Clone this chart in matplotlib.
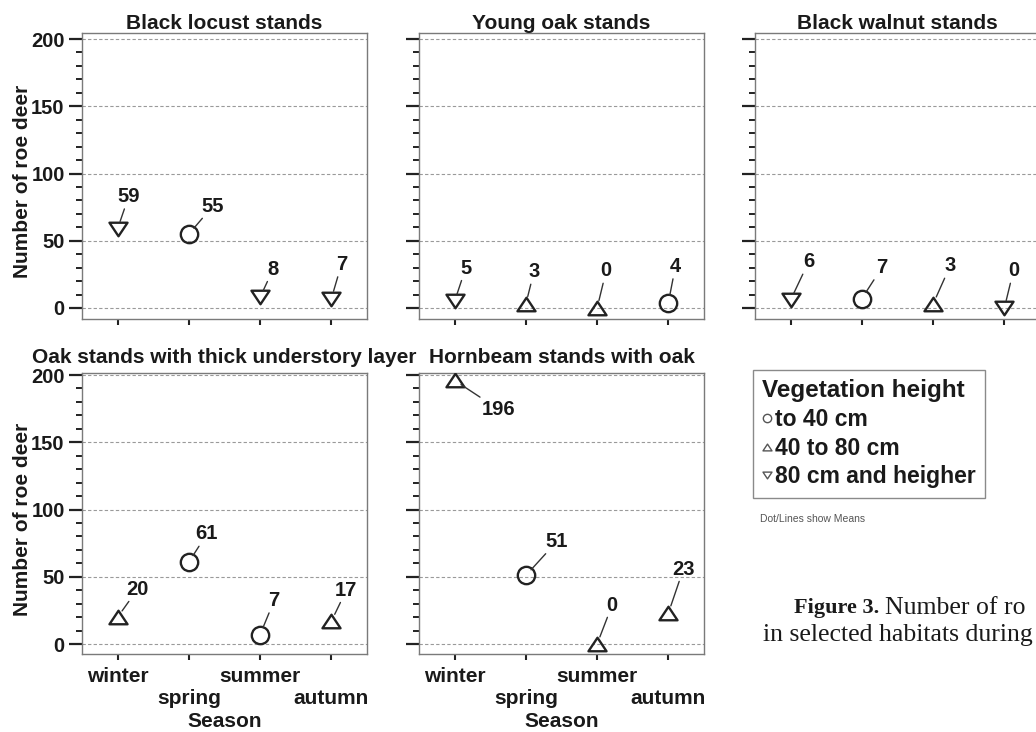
import matplotlib
matplotlib.use('Agg')
import matplotlib.pyplot as plt
from matplotlib.path import Path
from matplotlib.lines import Line2D
from matplotlib.font_manager import FontProperties

# ---------------- data ----------------
seasons = ['winter', 'spring', 'summer', 'autumn']
season_tick_labels = ['winter', '\nspring', 'summer', '\nautumn']
habitats = ['Black locust stands', 'Young oak stands', 'Black walnut stands',
            'Oak stands with thick understory layer', 'Hornbeam stands with oak']
black_locust = [59, 55, 8, 7]
young_oak = [5, 3, 0, 4]
black_walnut = [6, 7, 3, 0]
oak_understory = [20, 61, 7, 17]
hornbeam_oak = [196, 51, 0, 23]
veg_classes = ['to 40 cm', '40 to 80 cm', '80 cm and heigher']
# vegetation class index per season (0: to 40 cm, 1: 40-80 cm, 2: 80 cm+)
black_locust_veg = [2, 0, 2, 2]
young_oak_veg = [2, 1, 1, 0]
black_walnut_veg = [2, 0, 1, 2]
oak_understory_veg = [1, 0, 0, 1]
hornbeam_oak_veg = [1, 0, 1, 1]

values = [black_locust, young_oak, black_walnut, oak_understory, hornbeam_oak]
veg = [black_locust_veg, young_oak_veg, black_walnut_veg, oak_understory_veg, hornbeam_oak_veg]

# ---------------- styling ----------------
W, H = 1036, 732
FONT = 'Liberation Sans'
SERIF = 'Liberation Serif'
TXT = '#1a1a1a'
plt.rcParams['font.family'] = [FONT, 'DejaVu Sans']

up_tri = Path([(-1, -0.75), (1, -0.75), (0, 0.75), (-1, -0.75)],
              [Path.MOVETO, Path.LINETO, Path.LINETO, Path.CLOSEPOLY])
down_tri = Path([(-1, 0.75), (1, 0.75), (0, -0.75), (-1, 0.75)],
                [Path.MOVETO, Path.LINETO, Path.LINETO, Path.CLOSEPOLY])
markers = ['o', up_tri, down_tri]
marker_sizes = [12.5, 13, 13]

# label offsets in pixels (dx, dy) per panel
label_offsets = [
    [(11, 32), (24, 28), (13, 28), (10, 34)],
    [(11, 33), (8, 32), (9, 37), (7, 36)],
    [(18, 38), (20, 31), (17, 38), (9, 37)],
    [(20, 28), (18, 28), (14, 34), (15, 31)],
    [(44, -29), (31, 34), (15, 39), (15, 44)],
]

# panel frames in pixels: (left, top, right, bottom)
frames = [
    (82, 33, 367, 319),
    (419, 33, 704, 319),
    (755, 33, 1040, 319),
    (82, 373, 367, 654),
    (419, 373, 704, 654),
]
ylims = [(-8.2, 204.5)] * 3 + [(-7.4, 201.5)] * 2
title_pads = [3, 3, 3, 7, 7]

fig = plt.figure(figsize=(W / 100, H / 100), dpi=100)

for k in range(5):
    l, t, r, b = frames[k]
    ax = fig.add_axes([l / W, (H - b) / H, (r - l) / W, (b - t) / H])
    ax.set_xlim(-0.5, 3.5)
    ax.set_ylim(*ylims[k])
    for sp in ax.spines.values():
        sp.set_color('#7a7a7a')
        sp.set_linewidth(1.0)
    ax.set_yticks([0, 50, 100, 150, 200])
    ax.set_yticks(range(0, 201, 10), minor=True)
    ax.yaxis.grid(True, which='major', color='#9a9a9a', linestyle=(0, (3, 2)), linewidth=0.8)
    ax.set_axisbelow(True)
    ax.tick_params(axis='y', which='major', direction='out', length=9.5, width=1.6,
                   color='#222222', pad=3, labelsize=14.5, labelcolor=TXT)
    ax.tick_params(axis='y', which='minor', direction='out', length=4.5, width=1.4,
                   color='#222222')
    ax.set_xticks(range(len(seasons)))
    ax.tick_params(axis='x', direction='out', length=4.5, width=1.5, color='#222222',
                   pad=5, labelsize=15, labelcolor=TXT)
    for lab in ax.get_yticklabels():
        lab.set_fontweight('bold')
    if k % 3 == 0:
        ax.set_ylabel('Number of roe deer', fontsize=15, fontweight='bold', color=TXT)
        ax.yaxis.set_label_coords(-0.175, 0.48)
    else:
        ax.set_yticklabels([])
    if k >= 3:
        ax.set_xticklabels(season_tick_labels, fontweight='bold')
        ax.set_xlabel('Season', fontsize=15, fontweight='bold', color=TXT)
        ax.xaxis.set_label_coords(0.5, -0.205)
        ax.xaxis.label.set_va('top')
    else:
        ax.set_xticklabels([])
    ax.set_title(habitats[k], fontsize=15, fontweight='bold', color=TXT, pad=title_pads[k])

    for i, (v, c) in enumerate(zip(values[k], veg[k])):
        ax.plot(i, v, marker=markers[c], ms=marker_sizes[c], mfc='none', mec='#222222',
                mew=1.7, ls='none', zorder=3)
        dx, dy = label_offsets[k][i]
        ax.annotate(str(v), xy=(i, v), xytext=(dx, dy), textcoords='offset pixels',
                    ha='center', va='center', fontsize=14.5, fontweight='bold', color=TXT,
                    arrowprops=dict(arrowstyle='-', color='#333333', lw=1.0,
                                    shrinkA=0, shrinkB=5.5))

# ---------------- legend ----------------
handles = [Line2D([], [], marker=markers[c], ls='none', mfc='none', mec='#555555',
                  ms=6 if c == 0 else 6.5, mew=1.0) for c in range(3)]
leg_prop = FontProperties(family=FONT, weight='bold', size=16.5)
leg_title_prop = FontProperties(family=FONT, weight='bold', size=17.5)
leg = fig.legend(handles, veg_classes, title='Vegetation height', loc='upper left',
                 bbox_to_anchor=(753 / W, 1 - 370 / H), bbox_transform=fig.transFigure,
                 prop=leg_prop, title_fontproperties=leg_title_prop, alignment='left',
                 frameon=True, fancybox=False, edgecolor='#8a8a8a', framealpha=1,
                 handlelength=0.45, handletextpad=0.1, borderpad=0.4, labelspacing=0.25,
                 borderaxespad=0, markerscale=1)
leg.get_frame().set_linewidth(1.0)
for txt in leg.get_texts():
    txt.set_color(TXT)
leg.get_title().set_color(TXT)

fig.text(760 / W, 1 - 519 / H, 'Dot/Lines show Means', fontsize=7.5, color='#555555',
         ha='left', va='center')

# ---------------- caption ----------------
fig.canvas.draw()
renderer = fig.canvas.get_renderer()
cap_bold = fig.text(794 / W, 1 - 608 / H, 'Figure 3.', family=SERIF, fontsize=16,
                    fontweight='bold', color=TXT, ha='left', va='center')
bb = cap_bold.get_window_extent(renderer)
fig.text((bb.x1 + 6) / W, 1 - 608 / H, 'Number of ro', family=SERIF, fontsize=18.5,
         color=TXT, ha='left', va='center')
fig.text(763 / W, 1 - 635 / H, 'in selected habitats during', family=SERIF,
         fontsize=18.5, color=TXT, ha='left', va='center')

fig.savefig('out.png', dpi=100)
